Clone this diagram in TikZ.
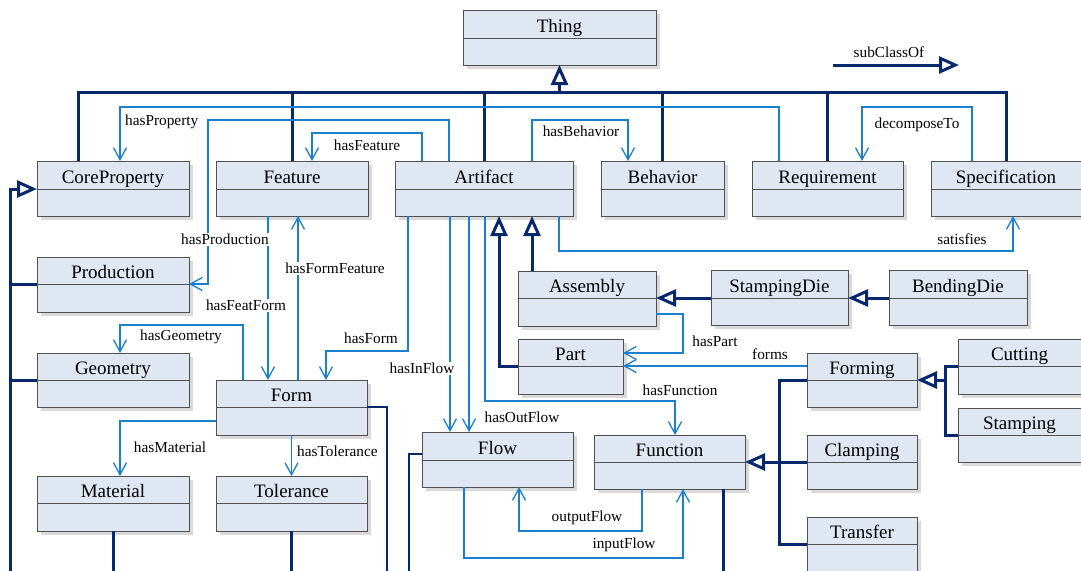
\documentclass[tikz,border=0pt]{standalone}
\usepackage{fontspec}
\setmainfont{Liberation Serif}
\usetikzlibrary{arrows.meta}
\definecolor{navyc}{RGB}{8,40,110}
\definecolor{assocblue}{RGB}{26,127,207}
\definecolor{boxfill}{RGB}{223,232,242}
\definecolor{boxborder}{RGB}{80,80,80}
\definecolor{shadowc}{RGB}{217,217,217}
\tikzset{
 umlbox/.style={draw=boxborder, fill=boxfill, line width=1pt, inner sep=0pt, outer sep=0pt},
 boxline/.style={draw=boxborder, line width=1pt},
 titletext/.style={anchor=base, inner sep=0pt, font=\fontsize{19}{22}\selectfont},
 lbl/.style={anchor=base, inner sep=1pt, font=\fontsize{15.3}{18}\selectfont},
 lblw/.style={lbl, fill=white},
 subl/.style={draw=navyc, line width=3pt},
 subm/.style={draw=navyc, line width=1.5pt},
 tri/.style={-{Triangle[open, length=20pt, width=17pt]}},
 assoc/.style={draw=assocblue, line width=1.3pt, -{Straight Barb[length=12pt, width=13pt]}},
}
\newcommand\umlclass[7]{%
  \fill[shadowc] (#2+4,#3+4) rectangle (#4+4,#6+4);
  \node[umlbox, anchor=north west, minimum width={(#4-#2)*1pt}, minimum height={(#6-#3)*1pt}] (#1) at (#2,#3) {};
  \coordinate (#1-d) at (#2,#5);
  \coordinate (#1-dr) at (#4,#5);
  \draw[boxline] (#1-d) -- (#1-dr);
  \node[titletext] (#1-t) at ({(#2+#4)/2},#5-6) {#7};
}
\begin{document}
\begin{tikzpicture}[x=1pt,y=-1pt]
\path[use as bounding box] (0,0) rectangle (1081,570);
\clip (0,0) rectangle (1081,570);
% classes
\umlclass{thing}{463}{10}{656}{38}{65}{Thing}
\umlclass{cp}{37}{161}{189}{189}{216}{CoreProperty}
\umlclass{feat}{216}{161}{368}{189}{216}{Feature}
\umlclass{art}{395}{161}{573}{189}{216}{Artifact}
\umlclass{beh}{601}{161}{724}{189}{216}{Behavior}
\umlclass{req}{752}{161}{903}{189}{216}{Requirement}
\umlclass{spec}{931}{161}{1081}{189}{216}{Specification}
\umlclass{prod}{37}{257}{189}{284}{312}{Production}
\umlclass{geo}{37}{353}{189}{380}{407}{Geometry}
\umlclass{form}{216}{380}{367}{407}{435}{Form}
\umlclass{mat}{37}{476}{189}{503}{531}{Material}
\umlclass{tol}{216}{476}{367}{503}{531}{Tolerance}
\umlclass{asm}{518}{271}{656}{298}{326}{Assembly}
\umlclass{part}{518}{339}{623}{366}{394}{Part}
\umlclass{sdie}{711}{270}{848}{298}{325}{StampingDie}
\umlclass{bdie}{889}{270}{1027}{298}{325}{BendingDie}
\umlclass{forming}{807}{353}{917}{380}{407}{Forming}
\umlclass{cut}{958}{339}{1081}{366}{394}{Cutting}
\umlclass{stamp}{958}{408}{1081}{435}{462}{Stamping}
\umlclass{clamp}{807}{435}{917}{462}{489}{Clamping}
\umlclass{trans}{807}{517}{917}{544}{575}{Transfer}
\umlclass{flow}{422}{432}{573}{460}{487}{Flow}
\umlclass{func}{594}{435}{745}{462}{489}{Function}
% subclass: Thing
\coordinate (bus) at (559.5,92);
\draw[subl] ([xshift=41pt]cp.north west) |- (bus);
\draw[subl] (spec.north) |- (bus);
\draw[subl] (feat.north) -- (feat.north |- bus);
\draw[subl] (art.north) -- (art.north |- bus);
\draw[subl] (beh.north) -- (beh.north |- bus);
\draw[subl] (req.north) -- (req.north |- bus);
\draw[subl,tri] (bus) -- (thing.south);
% legend
\coordinate (legA) at (833,65);
\coordinate (legB) at (959,65);
\draw[subl,tri] (legA) -- (legB);
% CoreProperty tree
\coordinate (lbot) at (10,590);
\draw[subl,tri] (lbot) |- (cp-d);
\draw[subl] (prod-d) -- (prod-d -| lbot);
\draw[subl] (geo-d) -- (geo-d -| lbot);
\draw[subl] (mat.south) -- (mat.south |- lbot);
\draw[subl] (tol.south) -- (tol.south |- lbot);
\coordinate (formb) at (387,590);
\draw[subm] (form-dr) -| (formb);
\coordinate (flowb) at (409,590);
\draw[subm] ([yshift=-22pt]flow.north west) -| (flowb);
\coordinate (funcb) at (723,590);
\draw[subl] ([xshift=129pt]func.south west) -- (funcb);
% Artifact tree
\draw[subl,tri] ([xshift=14pt]asm.north west) -- ([xshift=137pt]art.south west);
\draw[subl,tri] (part-d) -| ([xshift=104pt]art.south west);
\draw[subl,tri] (sdie-d) -- (asm-dr);
\draw[subl,tri] (bdie-d) -- (sdie-dr);
\coordinate (fj) at (945,380);
\draw[subl] (cut-d) -| (fj);
\draw[subl] (stamp-d) -| (fj);
\draw[subl,tri] (fj) -- (forming-dr);
\coordinate (fnj) at (779,462);
\draw[subl] (forming-d) -| (fnj);
\draw[subl] (trans-d) -| (fnj);
\draw[subl] (clamp-d) -- (fnj);
\draw[subl,tri] (fnj) -- (func-dr);
% associations
\draw[assoc] ([xshift=27pt]req.north west) -- ++(0,-54) -| ([xshift=83pt]cp.north west);
\draw[assoc] ([xshift=54pt]art.north west) -- ++(0,-41) -| ([xshift=19pt]prod-dr) -- (prod-dr);
\draw[assoc] ([xshift=27pt]art.north west) -- ++(0,-28) -| ([xshift=96pt]feat.north west);
\draw[assoc] ([xshift=137pt]art.north west) -- ++(0,-41) -| ([xshift=27pt]beh.north west);
\draw[assoc] ([xshift=41pt]spec.north west) -- ++(0,-54) -| ([xshift=110pt]req.north west);
\draw[assoc] ([xshift=164pt]art.south west) -- ++(0,35) -| ([xshift=82pt]spec.south west);
\draw[assoc] ([xshift=52pt]feat.south west) -- ([xshift=52pt]form.north west);
\draw[assoc] ([xshift=82pt]form.north west) -- ([xshift=82pt]feat.south west);
\draw[assoc] ([xshift=27pt]form.north west) -- ++(0,-55) -| ([xshift=83pt]geo.north west);
\draw[assoc] ([yshift=-41pt]form.north west) -| ([xshift=83pt]mat.north west);
\draw[assoc] (form.south) -- (tol.north);
\draw[assoc] ([xshift=13pt]art.south west) -- ++(0,135) -| ([xshift=110pt]form.north west);
\draw[assoc] ([xshift=55pt]art.south west) -- ([xshift=28pt]flow.north west);
\draw[assoc] ([xshift=74pt]art.south west) -- ([xshift=47pt]flow.north west);
\draw[assoc] ([xshift=90pt]art.south west) -- ++(0,185) -| ([xshift=81pt]func.north west);
\draw[assoc] ([yshift=-43pt]asm.north east) -- ++(27,0) |- ([yshift=-14pt]part.north east);
\draw[assoc] (forming.west |- part-dr) -- (part-dr);
\draw[assoc] ([xshift=48pt]func.south west) -- ++(0,42) -| ([xshift=97pt]flow.south west);
\draw[assoc] ([xshift=42pt]flow.south west) -- ++(0,71) -| ([xshift=89pt]func.south west);
% labels
\node[lbl] (l-leg) at (889,57.5) {subClassOf};
\node[lbl, anchor=base west] (l-prop) at (124,125) {hasProperty};
\node[lblw] (l-prod) at (225,244.5) {hasProduction};
\node[lbl] (l-feat) at (367,150.5) {hasFeature};
\node[lbl] (l-beh) at (581,136.5) {hasBehavior};
\node[lbl] (l-dec) at (917,128.5) {decomposeTo};
\node[lbl] (l-sat) at (962,244.5) {satisfies};
\node[lblw] (l-ff) at (246,310.5) {hasFeatForm};
\node[lblw] (l-fft) at (335,273.5) {hasFormFeature};
\node[lbl] (l-geo) at (181,340.5) {hasGeometry};
\node[lbl] (l-mat) at (170,452.5) {hasMaterial};
\node[lbl, anchor=base west] (l-tol) at (296,456) {hasTolerance};
\node[lbl] (l-form) at (371,343.5) {hasForm};
\node[lblw] (l-in) at (422,373.5) {hasInFlow};
\node[lbl] (l-out) at (522,422.5) {hasOutFlow};
\node[lbl] (l-fun) at (680,395.5) {hasFunction};
\node[lbl] (l-part) at (715,346.5) {hasPart};
\node[lbl] (l-forms) at (770,359.5) {forms};
\node[lbl] (l-of) at (587,521.5) {outputFlow};
\node[lbl] (l-if) at (624,548.5) {inputFlow};
\end{tikzpicture}
\end{document}
